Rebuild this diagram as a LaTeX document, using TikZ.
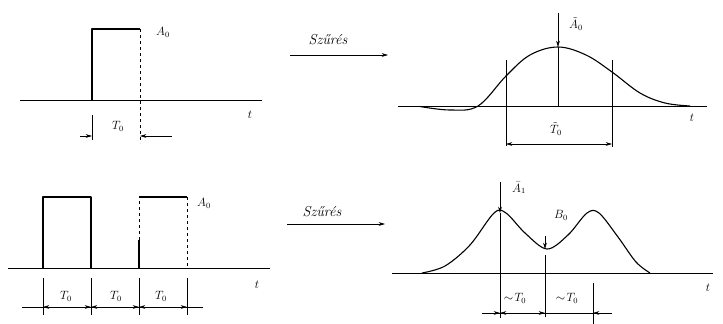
\documentclass[tikz,border=0pt]{standalone}
\usetikzlibrary{positioning, arrows.meta}
\begin{document}
\begin{tikzpicture}[
	x=1pt, y=-1pt, thick,
	>={Stealth[length=2.2mm, width=1.3mm]},
	lbl/.style={font=\large, inner sep=1pt},
	filt/.style={font=\Large\itshape, inner sep=1pt},
	dim/.style={semithick},
	sig/.style={line width=1.1pt, line join=round},
	]
	\useasboundingbox (0,0) rectangle (723,324);
	% --- top left: single pulse
	\coordinate (ax1s) at (20,100);
	\coordinate (ax1e) at (262,100);
	\draw (ax1s) -- (ax1e);
	\coordinate (p1a) at (92,100);
	\coordinate (p1b) at (92,29);
	\coordinate (p1c) at (140,29);
	\coordinate (p1d) at (140,100);
	\draw[sig] (p1a) -- (p1b) -- (p1c);
	\draw[dim, dashed] (p1c) -- (p1d) -- (140,143);
	\draw[dim] (92,115) -- (92,140);
	\draw[dim, ->] (80,136) -- (92,136);
	\draw[dim, ->] (172,136) -- (140,136);
	\node[lbl] (A0) at (163,32) {$A_0$};
	\node[lbl] (T0) at (118,126) {$T_0$};
	\node[lbl] (t1) at (250,115) {$t$};
	% --- top: filter arrow
	\node[filt] (sz1) at (328,40) {Szűrés};
	\coordinate (f1s) at (290,55);
	\coordinate (f1e) at (388,55);
	\draw[dim, ->] (f1s) -- (f1e);
	% --- top right: filtered pulse
	\coordinate (ax2s) at (398,106);
	\coordinate (ax2e) at (707,106);
	\draw (ax2s) -- (ax2e);
	\draw[sig] plot[smooth, tension=0.6] coordinates {
		(420,106.5) (450,110) (478,106) (506,76) (530,55) (558,47)
		(586,55) (612,72) (640,93) (665,103) (690,106)};
	\coordinate (pk1) at (558,47);
	\draw[dim] (558,106) -- (pk1);
	\draw[dim, ->] (558,13) -- (pk1);
	\draw[dim] (506,60) -- (506,146);
	\draw[dim] (612,60) -- (612,147);
	\draw[dim, <->] (506,144) -- (612,144);
	\node[lbl] (A0t) at (576,24) {$\tilde{A}_0$};
	\node[lbl] (T0t) at (556,129) {$\tilde{T}_0$};
	\node[lbl] (t2) at (692,118) {$t$};
	% --- bottom left: two pulses
	\coordinate (ax3s) at (8,268);
	\coordinate (ax3e) at (270,268);
	\draw (ax3s) -- (ax3e);
	\draw[sig] (43,268) -- (43,197) -- (91,197) -- (91,268);
	\draw[sig] (139,268) -- (139,240);
	\draw[dim, dashed] (139,240) -- (139,197);
	\draw[sig] (139,197) -- (187,197);
	\draw[dim, dashed] (187,197) -- (187,268);
	\foreach \x in {43,91,139,187}
		\draw[dim] (\x,278) -- (\x,315);
	\draw[dim] (22,307) -- (203,307);
	\draw[dim, <->] (43,307) -- (91,307);
	\draw[dim, <->] (91,307) -- (139,307);
	\draw[dim, <->] (139,307) -- (187,307);
	\node[lbl] (A0b) at (204,203) {$A_0$};
	\node[lbl] (T0a) at (66,296) {$T_0$};
	\node[lbl] (T0b) at (116,296) {$T_0$};
	\node[lbl] (T0c) at (161,296) {$T_0$};
	\node[lbl] (t3) at (257,285) {$t$};
	% --- bottom: filter arrow
	\node[filt] (sz2) at (322,212) {Szűrés};
	\coordinate (f2s) at (287,224);
	\coordinate (f2e) at (385,224);
	\draw[dim, ->] (f2s) -- (f2e);
	% --- bottom right: filtered pulse pair
	\coordinate (ax4s) at (392,273);
	\coordinate (ax4e) at (713,273);
	\draw (ax4s) -- (ax4e);
	\draw[sig] plot[smooth, tension=0.55] coordinates {
		(422,273) (445,266) (470,245) (494,213) (506,213) (525,233)
		(547,249) (568,235) (587,213) (599,213) (618,237) (636,262) (650,273)};
	\coordinate (pk2) at (500,213);
	\coordinate (mn2) at (545,249);
	\draw[dim, ->] (500,182) -- (pk2);
	\draw[dim] (pk2) -- (500,318);
	\draw[dim, ->] (545,236) -- (mn2);
	\draw[dim] (545,255) -- (545,317);
	\draw[dim] (593,283) -- (593,324);
	\draw[dim] (482,313) -- (612,313);
	\draw[dim, ->] (482,313) -- (500,313);
	\draw[dim, <->] (500,313) -- (545,313);
	\draw[dim, <-] (593,313) -- (612,313);
	\node[lbl] (A1) at (519,188) {$\bar{A}_1$};
	\node[lbl] (B0) at (561,215) {$B_0$};
	\node[lbl] (T0d) at (515,298) {$\sim\!T_0$};
	\node[lbl] (T0e) at (567,298) {$\sim\!T_0$};
	\node[lbl] (t4) at (708,288) {$t$};
\end{tikzpicture}
\end{document}
